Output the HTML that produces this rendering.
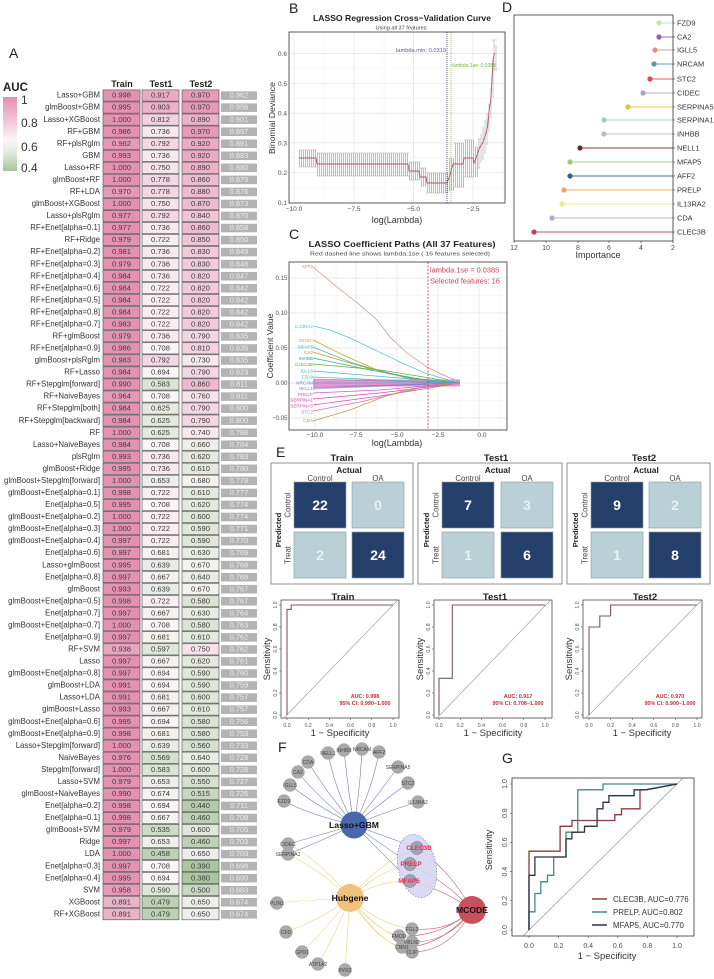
<!DOCTYPE html>
<html><head><meta charset="utf-8">
<style>
html,body{margin:0;padding:0;background:#fff;}
svg{display:block;font-family:"Liberation Sans",Arial,sans-serif;}
#A text{font-size:7.6px;text-anchor:middle;fill:#3c3c3c;}
#A text.l{text-anchor:end;fill:#333;font-size:7.8px;}
#A text.w{fill:#ececec;font-size:7.4px;}
.a0{fill:#e592b2}.a1{fill:#e79ab8}.a2{fill:#e9a4bf}.a3{fill:#eaacc4}.a4{fill:#ebb2c8}.a5{fill:#eebcd0}.a6{fill:#f0c5d5}.a7{fill:#f1cbda}.a8{fill:#f2d2de}.a9{fill:#f3d7e2}
.b0{fill:#f6e3ea}.b1{fill:#f7e9ee}.b2{fill:#f8eef2}.b3{fill:#f9f4f5}
.g0{fill:#f3f2ef}.g1{fill:#eeefea}.g2{fill:#e9ece5}.g3{fill:#e4e9df}.g4{fill:#dfe6da}.g5{fill:#dae3d4}.g6{fill:#d5e0ce}.g7{fill:#cedcc7}.g8{fill:#c8d7bf}.g9{fill:#bdd2b4}.h0{fill:#b5ccab}.h1{fill:#aac6a0}
.tk{font-size:7px;fill:#4d4d4d;}
.tb{font-size:6.6px;fill:#4d4d4d;}
.tc{font-size:6.2px;fill:#4d4d4d;}
.gn{font-size:5px;fill:#444;text-anchor:middle;}
</style></head>
<body>
<svg width="714" height="979" viewBox="0 0 714 979">
<defs>
<linearGradient id="lg" x1="0" y1="0" x2="0" y2="1">
<stop offset="0" stop-color="#e48fb0"/><stop offset="0.45" stop-color="#f6dde7"/><stop offset="0.58" stop-color="#faf7f7"/><stop offset="0.75" stop-color="#e3eadd"/><stop offset="1" stop-color="#a8c49c"/>
</linearGradient>
<rect id="c" y="-7.8" width="37" height="11.2" stroke="#4a4a4a" stroke-width="0.6"/>
<rect id="gb" x="221" y="-6.4" width="36" height="8.6" fill="#b3b3b3"/>
<pattern id="eb" width="2" height="4" patternUnits="userSpaceOnUse"><rect x="1" width="1" height="4" fill="#bdbdbd"/></pattern>
<clipPath id="cpC"><rect x="289" y="262" width="218" height="168"/></clipPath>
</defs>

<!-- ===== Panel A ===== -->
<text x="9" y="58" font-size="14" fill="#222">A</text>
<text x="3" y="91" font-size="11.5" font-weight="bold" fill="#222">AUC</text>
<rect x="3" y="97" width="14" height="74" fill="url(#lg)"/>
<g font-size="12" fill="#333">
<text x="21" y="104">1</text><text x="21" y="127">0.8</text><text x="21" y="151">0.6</text><text x="21" y="172">0.4</text>
</g>
<g font-size="9" font-weight="bold" fill="#222" text-anchor="middle">
<text x="122" y="87">Train</text><text x="161" y="87">Test1</text><text x="201" y="87">Test2</text>
</g>
<g id="A">
<g transform="translate(0,97.7)"><text x="100" class="l">Lasso+GBM</text><use href="#c" x="103" class="a0"/><text x="121.5">0.998</text><use href="#c" x="142" class="a3"/><text x="160.5">0.917</text><use href="#c" x="182" class="a1"/><text x="200.5">0.970</text><use href="#gb"/><text x="239" class="w">0.962</text></g>
<g transform="translate(0,109.74)"><text x="100" class="l">glmBoost+GBM</text><use href="#c" x="103" class="a0"/><text x="121.5">0.995</text><use href="#c" x="142" class="a4"/><text x="160.5">0.903</text><use href="#c" x="182" class="a1"/><text x="200.5">0.970</text><use href="#gb"/><text x="239" class="w">0.956</text></g>
<g transform="translate(0,121.78)"><text x="100" class="l">Lasso+XGBoost</text><use href="#c" x="103" class="a0"/><text x="121.5">1.000</text><use href="#c" x="142" class="a8"/><text x="160.5">0.812</text><use href="#c" x="182" class="a4"/><text x="200.5">0.890</text><use href="#gb"/><text x="239" class="w">0.901</text></g>
<g transform="translate(0,133.82)"><text x="100" class="l">RF+GBM</text><use href="#c" x="103" class="a0"/><text x="121.5">0.986</text><use href="#c" x="142" class="b1"/><text x="160.5">0.736</text><use href="#c" x="182" class="a1"/><text x="200.5">0.970</text><use href="#gb"/><text x="239" class="w">0.897</text></g>
<g transform="translate(0,145.86)"><text x="100" class="l">RF+plsRglm</text><use href="#c" x="103" class="a1"/><text x="121.5">0.962</text><use href="#c" x="142" class="a9"/><text x="160.5">0.792</text><use href="#c" x="182" class="a3"/><text x="200.5">0.920</text><use href="#gb"/><text x="239" class="w">0.891</text></g>
<g transform="translate(0,157.9)"><text x="100" class="l">GBM</text><use href="#c" x="103" class="a0"/><text x="121.5">0.993</text><use href="#c" x="142" class="b1"/><text x="160.5">0.736</text><use href="#c" x="182" class="a3"/><text x="200.5">0.920</text><use href="#gb"/><text x="239" class="w">0.883</text></g>
<g transform="translate(0,169.94)"><text x="100" class="l">Lasso+RF</text><use href="#c" x="103" class="a0"/><text x="121.5">1.000</text><use href="#c" x="142" class="b0"/><text x="160.5">0.750</text><use href="#c" x="182" class="a4"/><text x="200.5">0.890</text><use href="#gb"/><text x="239" class="w">0.880</text></g>
<g transform="translate(0,181.98)"><text x="100" class="l">glmBoost+RF</text><use href="#c" x="103" class="a0"/><text x="121.5">1.000</text><use href="#c" x="142" class="a9"/><text x="160.5">0.778</text><use href="#c" x="182" class="a5"/><text x="200.5">0.860</text><use href="#gb"/><text x="239" class="w">0.879</text></g>
<g transform="translate(0,194.02)"><text x="100" class="l">RF+LDA</text><use href="#c" x="103" class="a1"/><text x="121.5">0.970</text><use href="#c" x="142" class="a9"/><text x="160.5">0.778</text><use href="#c" x="182" class="a5"/><text x="200.5">0.880</text><use href="#gb"/><text x="239" class="w">0.876</text></g>
<g transform="translate(0,206.06)"><text x="100" class="l">glmBoost+XGBoost</text><use href="#c" x="103" class="a0"/><text x="121.5">1.000</text><use href="#c" x="142" class="b0"/><text x="160.5">0.750</text><use href="#c" x="182" class="a5"/><text x="200.5">0.870</text><use href="#gb"/><text x="239" class="w">0.873</text></g>
<g transform="translate(0,218.1)"><text x="100" class="l">Lasso+plsRglm</text><use href="#c" x="103" class="a0"/><text x="121.5">0.977</text><use href="#c" x="142" class="a9"/><text x="160.5">0.792</text><use href="#c" x="182" class="a6"/><text x="200.5">0.840</text><use href="#gb"/><text x="239" class="w">0.870</text></g>
<g transform="translate(0,230.14)"><text x="100" class="l">RF+Enet[alpha=0.1]</text><use href="#c" x="103" class="a0"/><text x="121.5">0.977</text><use href="#c" x="142" class="b1"/><text x="160.5">0.736</text><use href="#c" x="182" class="a5"/><text x="200.5">0.860</text><use href="#gb"/><text x="239" class="w">0.858</text></g>
<g transform="translate(0,242.18)"><text x="100" class="l">RF+Ridge</text><use href="#c" x="103" class="a0"/><text x="121.5">0.979</text><use href="#c" x="142" class="b2"/><text x="160.5">0.722</text><use href="#c" x="182" class="a6"/><text x="200.5">0.850</text><use href="#gb"/><text x="239" class="w">0.850</text></g>
<g transform="translate(0,254.22)"><text x="100" class="l">RF+Enet[alpha=0.2]</text><use href="#c" x="103" class="a0"/><text x="121.5">0.981</text><use href="#c" x="142" class="b1"/><text x="160.5">0.736</text><use href="#c" x="182" class="a7"/><text x="200.5">0.830</text><use href="#gb"/><text x="239" class="w">0.849</text></g>
<g transform="translate(0,266.26)"><text x="100" class="l">RF+Enet[alpha=0.3]</text><use href="#c" x="103" class="a0"/><text x="121.5">0.979</text><use href="#c" x="142" class="b1"/><text x="160.5">0.736</text><use href="#c" x="182" class="a7"/><text x="200.5">0.830</text><use href="#gb"/><text x="239" class="w">0.848</text></g>
<g transform="translate(0,278.3)"><text x="100" class="l">RF+Enet[alpha=0.4]</text><use href="#c" x="103" class="a0"/><text x="121.5">0.984</text><use href="#c" x="142" class="b1"/><text x="160.5">0.736</text><use href="#c" x="182" class="a7"/><text x="200.5">0.820</text><use href="#gb"/><text x="239" class="w">0.847</text></g>
<g transform="translate(0,290.34)"><text x="100" class="l">RF+Enet[alpha=0.6]</text><use href="#c" x="103" class="a0"/><text x="121.5">0.984</text><use href="#c" x="142" class="b2"/><text x="160.5">0.722</text><use href="#c" x="182" class="a7"/><text x="200.5">0.820</text><use href="#gb"/><text x="239" class="w">0.842</text></g>
<g transform="translate(0,302.38)"><text x="100" class="l">RF+Enet[alpha=0.5]</text><use href="#c" x="103" class="a0"/><text x="121.5">0.984</text><use href="#c" x="142" class="b2"/><text x="160.5">0.722</text><use href="#c" x="182" class="a7"/><text x="200.5">0.820</text><use href="#gb"/><text x="239" class="w">0.842</text></g>
<g transform="translate(0,314.42)"><text x="100" class="l">RF+Enet[alpha=0.8]</text><use href="#c" x="103" class="a0"/><text x="121.5">0.984</text><use href="#c" x="142" class="b2"/><text x="160.5">0.722</text><use href="#c" x="182" class="a7"/><text x="200.5">0.820</text><use href="#gb"/><text x="239" class="w">0.842</text></g>
<g transform="translate(0,326.46)"><text x="100" class="l">RF+Enet[alpha=0.7]</text><use href="#c" x="103" class="a0"/><text x="121.5">0.983</text><use href="#c" x="142" class="b2"/><text x="160.5">0.722</text><use href="#c" x="182" class="a7"/><text x="200.5">0.820</text><use href="#gb"/><text x="239" class="w">0.842</text></g>
<g transform="translate(0,338.5)"><text x="100" class="l">RF+glmBoost</text><use href="#c" x="103" class="a0"/><text x="121.5">0.979</text><use href="#c" x="142" class="b1"/><text x="160.5">0.736</text><use href="#c" x="182" class="a9"/><text x="200.5">0.790</text><use href="#gb"/><text x="239" class="w">0.835</text></g>
<g transform="translate(0,350.54)"><text x="100" class="l">RF+Enet[alpha=0.9]</text><use href="#c" x="103" class="a0"/><text x="121.5">0.986</text><use href="#c" x="142" class="b3"/><text x="160.5">0.708</text><use href="#c" x="182" class="a8"/><text x="200.5">0.810</text><use href="#gb"/><text x="239" class="w">0.835</text></g>
<g transform="translate(0,362.58)"><text x="100" class="l">glmBoost+plsRglm</text><use href="#c" x="103" class="a0"/><text x="121.5">0.983</text><use href="#c" x="142" class="a9"/><text x="160.5">0.792</text><use href="#c" x="182" class="b1"/><text x="200.5">0.730</text><use href="#gb"/><text x="239" class="w">0.835</text></g>
<g transform="translate(0,374.62)"><text x="100" class="l">RF+Lasso</text><use href="#c" x="103" class="a0"/><text x="121.5">0.984</text><use href="#c" x="142" class="b3"/><text x="160.5">0.694</text><use href="#c" x="182" class="a9"/><text x="200.5">0.790</text><use href="#gb"/><text x="239" class="w">0.823</text></g>
<g transform="translate(0,386.66)"><text x="100" class="l">RF+Stepglm[forward]</text><use href="#c" x="103" class="a0"/><text x="121.5">0.990</text><use href="#c" x="142" class="g5"/><text x="160.5">0.583</text><use href="#c" x="182" class="a5"/><text x="200.5">0.860</text><use href="#gb"/><text x="239" class="w">0.811</text></g>
<g transform="translate(0,398.7)"><text x="100" class="l">RF+NaiveBayes</text><use href="#c" x="103" class="a1"/><text x="121.5">0.964</text><use href="#c" x="142" class="b3"/><text x="160.5">0.708</text><use href="#c" x="182" class="b0"/><text x="200.5">0.760</text><use href="#gb"/><text x="239" class="w">0.811</text></g>
<g transform="translate(0,410.74)"><text x="100" class="l">RF+Stepglm[both]</text><use href="#c" x="103" class="a0"/><text x="121.5">0.984</text><use href="#c" x="142" class="g3"/><text x="160.5">0.625</text><use href="#c" x="182" class="a9"/><text x="200.5">0.790</text><use href="#gb"/><text x="239" class="w">0.800</text></g>
<g transform="translate(0,422.78)"><text x="100" class="l">RF+Stepglm[backward]</text><use href="#c" x="103" class="a0"/><text x="121.5">0.984</text><use href="#c" x="142" class="g3"/><text x="160.5">0.625</text><use href="#c" x="182" class="a9"/><text x="200.5">0.790</text><use href="#gb"/><text x="239" class="w">0.800</text></g>
<g transform="translate(0,434.82)"><text x="100" class="l">RF</text><use href="#c" x="103" class="a0"/><text x="121.5">1.000</text><use href="#c" x="142" class="g3"/><text x="160.5">0.625</text><use href="#c" x="182" class="b1"/><text x="200.5">0.740</text><use href="#gb"/><text x="239" class="w">0.788</text></g>
<g transform="translate(0,446.86)"><text x="100" class="l">Lasso+NaiveBayes</text><use href="#c" x="103" class="a0"/><text x="121.5">0.984</text><use href="#c" x="142" class="b3"/><text x="160.5">0.708</text><use href="#c" x="182" class="g1"/><text x="200.5">0.660</text><use href="#gb"/><text x="239" class="w">0.784</text></g>
<g transform="translate(0,458.9)"><text x="100" class="l">plsRglm</text><use href="#c" x="103" class="a0"/><text x="121.5">0.993</text><use href="#c" x="142" class="b1"/><text x="160.5">0.736</text><use href="#c" x="182" class="g3"/><text x="200.5">0.620</text><use href="#gb"/><text x="239" class="w">0.783</text></g>
<g transform="translate(0,470.94)"><text x="100" class="l">glmBoost+Ridge</text><use href="#c" x="103" class="a0"/><text x="121.5">0.995</text><use href="#c" x="142" class="b1"/><text x="160.5">0.736</text><use href="#c" x="182" class="g3"/><text x="200.5">0.610</text><use href="#gb"/><text x="239" class="w">0.780</text></g>
<g transform="translate(0,482.98)"><text x="100" class="l">glmBoost+Stepglm[forward]</text><use href="#c" x="103" class="a0"/><text x="121.5">1.000</text><use href="#c" x="142" class="g1"/><text x="160.5">0.653</text><use href="#c" x="182" class="g0"/><text x="200.5">0.680</text><use href="#gb"/><text x="239" class="w">0.778</text></g>
<g transform="translate(0,495.02)"><text x="100" class="l">glmBoost+Enet[alpha=0.1]</text><use href="#c" x="103" class="a0"/><text x="121.5">0.998</text><use href="#c" x="142" class="b2"/><text x="160.5">0.722</text><use href="#c" x="182" class="g3"/><text x="200.5">0.610</text><use href="#gb"/><text x="239" class="w">0.777</text></g>
<g transform="translate(0,507.06)"><text x="100" class="l">Enet[alpha=0.5]</text><use href="#c" x="103" class="a0"/><text x="121.5">0.995</text><use href="#c" x="142" class="b3"/><text x="160.5">0.708</text><use href="#c" x="182" class="g3"/><text x="200.5">0.620</text><use href="#gb"/><text x="239" class="w">0.774</text></g>
<g transform="translate(0,519.1)"><text x="100" class="l">glmBoost+Enet[alpha=0.2]</text><use href="#c" x="103" class="a0"/><text x="121.5">1.000</text><use href="#c" x="142" class="b2"/><text x="160.5">0.722</text><use href="#c" x="182" class="g4"/><text x="200.5">0.600</text><use href="#gb"/><text x="239" class="w">0.774</text></g>
<g transform="translate(0,531.14)"><text x="100" class="l">glmBoost+Enet[alpha=0.3]</text><use href="#c" x="103" class="a0"/><text x="121.5">1.000</text><use href="#c" x="142" class="b2"/><text x="160.5">0.722</text><use href="#c" x="182" class="g4"/><text x="200.5">0.590</text><use href="#gb"/><text x="239" class="w">0.771</text></g>
<g transform="translate(0,543.18)"><text x="100" class="l">glmBoost+Enet[alpha=0.4]</text><use href="#c" x="103" class="a0"/><text x="121.5">0.997</text><use href="#c" x="142" class="b2"/><text x="160.5">0.722</text><use href="#c" x="182" class="g4"/><text x="200.5">0.590</text><use href="#gb"/><text x="239" class="w">0.770</text></g>
<g transform="translate(0,555.22)"><text x="100" class="l">Enet[alpha=0.6]</text><use href="#c" x="103" class="a0"/><text x="121.5">0.997</text><use href="#c" x="142" class="g0"/><text x="160.5">0.681</text><use href="#c" x="182" class="g2"/><text x="200.5">0.630</text><use href="#gb"/><text x="239" class="w">0.769</text></g>
<g transform="translate(0,567.26)"><text x="100" class="l">Lasso+glmBoost</text><use href="#c" x="103" class="a0"/><text x="121.5">0.995</text><use href="#c" x="142" class="g2"/><text x="160.5">0.639</text><use href="#c" x="182" class="g0"/><text x="200.5">0.670</text><use href="#gb"/><text x="239" class="w">0.768</text></g>
<g transform="translate(0,579.3)"><text x="100" class="l">Enet[alpha=0.8]</text><use href="#c" x="103" class="a0"/><text x="121.5">0.997</text><use href="#c" x="142" class="g0"/><text x="160.5">0.667</text><use href="#c" x="182" class="g2"/><text x="200.5">0.640</text><use href="#gb"/><text x="239" class="w">0.768</text></g>
<g transform="translate(0,591.34)"><text x="100" class="l">glmBoost</text><use href="#c" x="103" class="a0"/><text x="121.5">0.993</text><use href="#c" x="142" class="g2"/><text x="160.5">0.639</text><use href="#c" x="182" class="g0"/><text x="200.5">0.670</text><use href="#gb"/><text x="239" class="w">0.767</text></g>
<g transform="translate(0,603.38)"><text x="100" class="l">glmBoost+Enet[alpha=0.5]</text><use href="#c" x="103" class="a0"/><text x="121.5">0.998</text><use href="#c" x="142" class="b2"/><text x="160.5">0.722</text><use href="#c" x="182" class="g5"/><text x="200.5">0.580</text><use href="#gb"/><text x="239" class="w">0.767</text></g>
<g transform="translate(0,615.42)"><text x="100" class="l">Enet[alpha=0.7]</text><use href="#c" x="103" class="a0"/><text x="121.5">0.997</text><use href="#c" x="142" class="g0"/><text x="160.5">0.667</text><use href="#c" x="182" class="g2"/><text x="200.5">0.630</text><use href="#gb"/><text x="239" class="w">0.764</text></g>
<g transform="translate(0,627.46)"><text x="100" class="l">glmBoost+Enet[alpha=0.7]</text><use href="#c" x="103" class="a0"/><text x="121.5">1.000</text><use href="#c" x="142" class="b3"/><text x="160.5">0.708</text><use href="#c" x="182" class="g5"/><text x="200.5">0.580</text><use href="#gb"/><text x="239" class="w">0.763</text></g>
<g transform="translate(0,639.5)"><text x="100" class="l">Enet[alpha=0.9]</text><use href="#c" x="103" class="a0"/><text x="121.5">0.997</text><use href="#c" x="142" class="g0"/><text x="160.5">0.681</text><use href="#c" x="182" class="g3"/><text x="200.5">0.610</text><use href="#gb"/><text x="239" class="w">0.762</text></g>
<g transform="translate(0,651.54)"><text x="100" class="l">RF+SVM</text><use href="#c" x="103" class="a2"/><text x="121.5">0.938</text><use href="#c" x="142" class="g4"/><text x="160.5">0.597</text><use href="#c" x="182" class="b0"/><text x="200.5">0.750</text><use href="#gb"/><text x="239" class="w">0.762</text></g>
<g transform="translate(0,663.58)"><text x="100" class="l">Lasso</text><use href="#c" x="103" class="a0"/><text x="121.5">0.997</text><use href="#c" x="142" class="g0"/><text x="160.5">0.667</text><use href="#c" x="182" class="g3"/><text x="200.5">0.620</text><use href="#gb"/><text x="239" class="w">0.761</text></g>
<g transform="translate(0,675.62)"><text x="100" class="l">glmBoost+Enet[alpha=0.8]</text><use href="#c" x="103" class="a0"/><text x="121.5">0.997</text><use href="#c" x="142" class="b3"/><text x="160.5">0.694</text><use href="#c" x="182" class="g4"/><text x="200.5">0.590</text><use href="#gb"/><text x="239" class="w">0.760</text></g>
<g transform="translate(0,687.66)"><text x="100" class="l">glmBoost+LDA</text><use href="#c" x="103" class="a0"/><text x="121.5">0.991</text><use href="#c" x="142" class="b3"/><text x="160.5">0.694</text><use href="#c" x="182" class="g4"/><text x="200.5">0.590</text><use href="#gb"/><text x="239" class="w">0.759</text></g>
<g transform="translate(0,699.7)"><text x="100" class="l">Lasso+LDA</text><use href="#c" x="103" class="a0"/><text x="121.5">0.991</text><use href="#c" x="142" class="g0"/><text x="160.5">0.681</text><use href="#c" x="182" class="g4"/><text x="200.5">0.600</text><use href="#gb"/><text x="239" class="w">0.757</text></g>
<g transform="translate(0,711.74)"><text x="100" class="l">glmBoost+Lasso</text><use href="#c" x="103" class="a0"/><text x="121.5">0.993</text><use href="#c" x="142" class="g0"/><text x="160.5">0.667</text><use href="#c" x="182" class="g3"/><text x="200.5">0.610</text><use href="#gb"/><text x="239" class="w">0.757</text></g>
<g transform="translate(0,723.78)"><text x="100" class="l">glmBoost+Enet[alpha=0.6]</text><use href="#c" x="103" class="a0"/><text x="121.5">0.995</text><use href="#c" x="142" class="b3"/><text x="160.5">0.694</text><use href="#c" x="182" class="g5"/><text x="200.5">0.580</text><use href="#gb"/><text x="239" class="w">0.756</text></g>
<g transform="translate(0,735.82)"><text x="100" class="l">glmBoost+Enet[alpha=0.9]</text><use href="#c" x="103" class="a0"/><text x="121.5">0.998</text><use href="#c" x="142" class="g0"/><text x="160.5">0.681</text><use href="#c" x="182" class="g5"/><text x="200.5">0.580</text><use href="#gb"/><text x="239" class="w">0.753</text></g>
<g transform="translate(0,747.86)"><text x="100" class="l">Lasso+Stepglm[forward]</text><use href="#c" x="103" class="a0"/><text x="121.5">1.000</text><use href="#c" x="142" class="g2"/><text x="160.5">0.639</text><use href="#c" x="182" class="g6"/><text x="200.5">0.560</text><use href="#gb"/><text x="239" class="w">0.733</text></g>
<g transform="translate(0,759.9)"><text x="100" class="l">NaiveBayes</text><use href="#c" x="103" class="a0"/><text x="121.5">0.976</text><use href="#c" x="142" class="g6"/><text x="160.5">0.569</text><use href="#c" x="182" class="g2"/><text x="200.5">0.640</text><use href="#gb"/><text x="239" class="w">0.728</text></g>
<g transform="translate(0,771.94)"><text x="100" class="l">Stepglm[forward]</text><use href="#c" x="103" class="a0"/><text x="121.5">1.000</text><use href="#c" x="142" class="g5"/><text x="160.5">0.583</text><use href="#c" x="182" class="g4"/><text x="200.5">0.600</text><use href="#gb"/><text x="239" class="w">0.728</text></g>
<g transform="translate(0,783.98)"><text x="100" class="l">Lasso+SVM</text><use href="#c" x="103" class="a0"/><text x="121.5">0.979</text><use href="#c" x="142" class="g1"/><text x="160.5">0.653</text><use href="#c" x="182" class="g6"/><text x="200.5">0.550</text><use href="#gb"/><text x="239" class="w">0.727</text></g>
<g transform="translate(0,796.02)"><text x="100" class="l">glmBoost+NaiveBayes</text><use href="#c" x="103" class="a0"/><text x="121.5">0.990</text><use href="#c" x="142" class="g0"/><text x="160.5">0.674</text><use href="#c" x="182" class="g8"/><text x="200.5">0.515</text><use href="#gb"/><text x="239" class="w">0.726</text></g>
<g transform="translate(0,808.06)"><text x="100" class="l">Enet[alpha=0.2]</text><use href="#c" x="103" class="a0"/><text x="121.5">0.998</text><use href="#c" x="142" class="b3"/><text x="160.5">0.694</text><use href="#c" x="182" class="h0"/><text x="200.5">0.440</text><use href="#gb"/><text x="239" class="w">0.711</text></g>
<g transform="translate(0,820.1)"><text x="100" class="l">Enet[alpha=0.1]</text><use href="#c" x="103" class="a0"/><text x="121.5">0.998</text><use href="#c" x="142" class="g0"/><text x="160.5">0.667</text><use href="#c" x="182" class="g9"/><text x="200.5">0.460</text><use href="#gb"/><text x="239" class="w">0.708</text></g>
<g transform="translate(0,832.14)"><text x="100" class="l">glmBoost+SVM</text><use href="#c" x="103" class="a0"/><text x="121.5">0.979</text><use href="#c" x="142" class="g7"/><text x="160.5">0.535</text><use href="#c" x="182" class="g4"/><text x="200.5">0.600</text><use href="#gb"/><text x="239" class="w">0.705</text></g>
<g transform="translate(0,844.18)"><text x="100" class="l">Ridge</text><use href="#c" x="103" class="a0"/><text x="121.5">0.997</text><use href="#c" x="142" class="g1"/><text x="160.5">0.653</text><use href="#c" x="182" class="g9"/><text x="200.5">0.460</text><use href="#gb"/><text x="239" class="w">0.703</text></g>
<g transform="translate(0,856.22)"><text x="100" class="l">LDA</text><use href="#c" x="103" class="a0"/><text x="121.5">1.000</text><use href="#c" x="142" class="g9"/><text x="160.5">0.458</text><use href="#c" x="182" class="g1"/><text x="200.5">0.650</text><use href="#gb"/><text x="239" class="w">0.703</text></g>
<g transform="translate(0,868.26)"><text x="100" class="l">Enet[alpha=0.3]</text><use href="#c" x="103" class="a0"/><text x="121.5">0.997</text><use href="#c" x="142" class="b3"/><text x="160.5">0.708</text><use href="#c" x="182" class="h1"/><text x="200.5">0.390</text><use href="#gb"/><text x="239" class="w">0.698</text></g>
<g transform="translate(0,880.3)"><text x="100" class="l">Enet[alpha=0.4]</text><use href="#c" x="103" class="a0"/><text x="121.5">0.995</text><use href="#c" x="142" class="b3"/><text x="160.5">0.694</text><use href="#c" x="182" class="h1"/><text x="200.5">0.380</text><use href="#gb"/><text x="239" class="w">0.690</text></g>
<g transform="translate(0,892.34)"><text x="100" class="l">SVM</text><use href="#c" x="103" class="a1"/><text x="121.5">0.958</text><use href="#c" x="142" class="g4"/><text x="160.5">0.590</text><use href="#c" x="182" class="g8"/><text x="200.5">0.500</text><use href="#gb"/><text x="239" class="w">0.683</text></g>
<g transform="translate(0,904.38)"><text x="100" class="l">XGBoost</text><use href="#c" x="103" class="a4"/><text x="121.5">0.891</text><use href="#c" x="142" class="g9"/><text x="160.5">0.479</text><use href="#c" x="182" class="g1"/><text x="200.5">0.650</text><use href="#gb"/><text x="239" class="w">0.674</text></g>
<g transform="translate(0,916.42)"><text x="100" class="l">RF+XGBoost</text><use href="#c" x="103" class="a4"/><text x="121.5">0.891</text><use href="#c" x="142" class="g9"/><text x="160.5">0.479</text><use href="#c" x="182" class="g1"/><text x="200.5">0.650</text><use href="#gb"/><text x="239" class="w">0.674</text></g>
</g>

<!-- ===== Panel B ===== -->
<text x="289" y="13" font-size="14" fill="#222">B</text>
<text x="402" y="21" font-size="8.5" font-weight="bold" fill="#222" text-anchor="middle" textLength="178" lengthAdjust="spacingAndGlyphs">LASSO Regression Cross−Validation Curve</text>
<text x="401" y="29.5" font-size="5.6" fill="#444" text-anchor="middle">Using all 37 features</text>
<rect x="289" y="32" width="216" height="171" fill="#fff"/>
<g stroke="#f0f0f0" stroke-width="0.5">
<line x1="324" y1="32" x2="324" y2="203"/><line x1="384" y1="32" x2="384" y2="203"/><line x1="443" y1="32" x2="443" y2="203"/><line x1="503" y1="32" x2="503" y2="203"/>
<line x1="289" y1="187.6" x2="505" y2="187.6"/><line x1="289" y1="157.8" x2="505" y2="157.8"/><line x1="289" y1="128" x2="505" y2="128"/><line x1="289" y1="98.2" x2="505" y2="98.2"/><line x1="289" y1="68.4" x2="505" y2="68.4"/><line x1="289" y1="38.6" x2="505" y2="38.6"/>
</g>
<g stroke="#e2e2e2" stroke-width="0.7">
<line x1="294" y1="32" x2="294" y2="203"/><line x1="354" y1="32" x2="354" y2="203"/><line x1="413.5" y1="32" x2="413.5" y2="203"/><line x1="473" y1="32" x2="473" y2="203"/>
<line x1="289" y1="172.7" x2="505" y2="172.7"/><line x1="289" y1="142.9" x2="505" y2="142.9"/><line x1="289" y1="113.1" x2="505" y2="113.1"/><line x1="289" y1="83.3" x2="505" y2="83.3"/><line x1="289" y1="53.5" x2="505" y2="53.5"/>
</g>
<!-- error bars -->
<g fill="url(#eb)">
<rect x="299" y="150" width="18" height="17"/>
<rect x="317" y="153" width="92" height="23"/>
<rect x="409" y="162" width="11" height="18"/>
<rect x="420" y="168" width="6" height="18"/>
<rect x="426" y="173" width="22" height="20"/>
<rect x="448" y="158" width="6" height="33"/>
<rect x="454" y="143" width="10" height="44"/>
<rect x="464" y="140" width="10" height="37"/>
<rect x="474" y="146" width="4" height="31"/>
</g>
<g stroke="#a8a8a8" stroke-width="0.6" fill="none">
<path d="M299,150H317M299,167H317M317,153H409M317,176H409M409,162H420M409,180H420M420,168H426M420,186H426M426,173H448M426,193H448M454,143H464M454,187H464M464,140H474M464,177H474"/>
<path d="M479,139V168M481,134V163M483,127V160M485,120V154M487,113V145M489,104V132M491,88V118M493,62V98M494,40V70M496,45V70M477.5,139H480.5M477.5,168H480.5M492,40H497M492,70H497M489,104H490"/>
</g>
<path d="M299,158H316L317,164H408L409,171H419L420,177H426L427,183H447L450,175L453,164H463L464,158H473L474,163L477,155L480,147L483,142L486,133L487.5,127L489,112L491,97L493,60L494.5,53" fill="none" stroke="#b05a6a" stroke-width="0.9"/>
<line x1="447" y1="32" x2="447" y2="203" stroke="#2a2a60" stroke-width="0.8" stroke-dasharray="1,1"/>
<line x1="451" y1="32" x2="451" y2="203" stroke="#7ab04a" stroke-width="0.8" stroke-dasharray="1,1"/>
<text x="446" y="52" font-size="5.7" fill="#5a5aa0" text-anchor="end">lambda.min: 0.0319</text>
<text x="452" y="67" font-size="5" fill="#7ab040">lambda.1se: 0.0385</text>
<rect x="289" y="32" width="216" height="171" fill="none" stroke="#333" stroke-width="0.8"/>
<g class="tb" text-anchor="end">
<text x="287" y="205">0.1</text><text x="287" y="175.2">0.2</text><text x="287" y="145.4">0.3</text><text x="287" y="115.6">0.4</text><text x="287" y="85.8">0.5</text><text x="287" y="56">0.6</text>
</g>
<g class="tb" text-anchor="middle">
<text x="294" y="211">−10.0</text><text x="354" y="211">−7.5</text><text x="413.5" y="211">−5.0</text><text x="473" y="211">−2.5</text>
</g>
<text x="397" y="223" font-size="9" fill="#333" text-anchor="middle">log(Lambda)</text>
<text x="275" y="118" font-size="8.7" fill="#333" text-anchor="middle" transform="rotate(-90 275 118)">Binomial Deviance</text>

<!-- ===== Panel C ===== -->
<text x="289" y="239" font-size="14" fill="#222">C</text>
<text x="402" y="247" font-size="8.5" font-weight="bold" fill="#222" text-anchor="middle" textLength="187" lengthAdjust="spacingAndGlyphs">LASSO Coefficient Paths (All 37 Features)</text>
<text x="400" y="255.5" font-size="5.6" fill="#444" text-anchor="middle" textLength="180" lengthAdjust="spacingAndGlyphs">Red dashed line shows lambda.1se ( 16 features selected)</text>
<g stroke="#f0f0f0" stroke-width="0.5">
<line x1="295" y1="262" x2="295" y2="430"/><line x1="336" y1="262" x2="336" y2="430"/><line x1="377" y1="262" x2="377" y2="430"/><line x1="418" y1="262" x2="418" y2="430"/><line x1="459" y1="262" x2="459" y2="430"/><line x1="500" y1="262" x2="500" y2="430"/>
<line x1="289" y1="400.5" x2="507" y2="400.5"/><line x1="289" y1="365.5" x2="507" y2="365.5"/><line x1="289" y1="330.5" x2="507" y2="330.5"/><line x1="289" y1="295.5" x2="507" y2="295.5"/>
</g>
<g stroke="#e2e2e2" stroke-width="0.7">
<line x1="315" y1="262" x2="315" y2="430"/><line x1="356" y1="262" x2="356" y2="430"/><line x1="397" y1="262" x2="397" y2="430"/><line x1="438" y1="262" x2="438" y2="430"/><line x1="479" y1="262" x2="479" y2="430"/>
<line x1="289" y1="418" x2="507" y2="418"/><line x1="289" y1="383" x2="507" y2="383"/><line x1="289" y1="348" x2="507" y2="348"/><line x1="289" y1="313" x2="507" y2="313"/><line x1="289" y1="278" x2="507" y2="278"/>
</g>
<g fill="none" stroke-width="0.7" clip-path="url(#cpC)">
<path d="M313,380H460M313,381H460M313,382H460M313,384H460M313,385H460M313,386H460" stroke="#d0409a" opacity="0.7"/>
<path d="M313,379L460,383M313,387L460,383M313,389L460,383" stroke="#9060c0" opacity="0.6"/>
<polyline points="313,267 337,287 360,305 377,320 390,337 407,353 427,367 443,375 460,382" stroke="#c89080"/>
<polyline points="313,326 330,330 350,338 375,350 400,362 425,373 445,379 460,383" stroke="#60c0d0"/>
<polyline points="313,340 345,356 375,369 410,379 460,383" stroke="#b0b030"/>
<polyline points="313,347 350,362 390,374 430,381 460,383" stroke="#50b0c0"/>
<polyline points="313,352 360,366 410,378 460,383" stroke="#b0a020"/>
<polyline points="313,358 370,370 420,379 460,383" stroke="#40a0a0"/>
<polyline points="313,364 380,370 430,378 460,383" stroke="#60b040"/>
<polyline points="313,371 400,378 460,383" stroke="#40b0d0"/>
<polyline points="313,377 460,383" stroke="#40c0b0"/>
<polyline points="313,383 460,383" stroke="#6080d0"/>
<polyline points="313,388 460,383" stroke="#8080e0"/>
<polyline points="313,393 380,390 460,383" stroke="#c060d0"/>
<polyline points="313,399 380,393 460,383" stroke="#e040b0"/>
<polyline points="313,405 380,396 460,383" stroke="#d050c0"/>
<polyline points="313,411 360,402 420,388 460,383" stroke="#e070a0"/>
<polyline points="313,421 350,410 383,397 410,389 437,385 460,383" stroke="#b0a040"/>
</g>
<g font-size="4.6" text-anchor="end">
<text x="313" y="268" fill="#c89080">AFF2</text>
<text x="313" y="328" fill="#60c0d0">IL13RA2</text>
<text x="313" y="342" fill="#b0b030">CIDEC</text>
<text x="313" y="348.5" fill="#50b0c0">MFAP5</text>
<text x="313" y="354" fill="#b0a020">CA2</text>
<text x="313" y="360" fill="#40a0a0">INHBB</text>
<text x="313" y="366" fill="#60b040">CLEC3B</text>
<text x="313" y="372.5" fill="#40b0d0">IGLL5</text>
<text x="313" y="378.5" fill="#40c0b0">FZD9</text>
<text x="313" y="384.5" fill="#6080d0">NRCAM</text>
<text x="313" y="390" fill="#8080e0">NELL1</text>
<text x="313" y="396" fill="#c060d0">PRELP</text>
<text x="313" y="401.5" fill="#e040b0">SERPINA1</text>
<text x="313" y="407.5" fill="#d050c0">SERPINA5</text>
<text x="313" y="413.5" fill="#e070a0">STC2</text>
<text x="313" y="422" fill="#b0a040">CDA</text>
</g>
<line x1="428" y1="262" x2="428" y2="430" stroke="#c03040" stroke-width="0.8" stroke-dasharray="2,1.5"/>
<text x="430" y="272.5" font-size="7.4" fill="#d04050">lambda.1se = 0.0385</text>
<text x="430" y="283.5" font-size="7.4" fill="#d04050">Selected features: 16</text>
<rect x="289" y="262" width="218" height="168" fill="none" stroke="#333" stroke-width="0.8"/>
<g class="tc" text-anchor="end">
<text x="287.5" y="420">−0.05</text><text x="287.5" y="385">0.00</text><text x="287.5" y="350">0.05</text><text x="287.5" y="315">0.10</text><text x="287.5" y="280">0.15</text>
</g>
<g class="tb" text-anchor="middle">
<text x="315" y="437">−10.0</text><text x="356" y="437">−7.5</text><text x="397" y="437">−5.0</text><text x="438" y="437">−2.5</text><text x="482" y="437">0.0</text>
</g>
<text x="397" y="446" font-size="9" fill="#333" text-anchor="middle">log(Lambda)</text>
<text x="273" y="346" font-size="8.7" fill="#333" text-anchor="middle" transform="rotate(-90 273 346)">Coefficient Value</text>

<!-- ===== Panel D ===== -->
<text x="502" y="12" font-size="14" fill="#222">D</text>
<g stroke-width="1" opacity="0.9">
<line x1="659" y1="23" x2="673" y2="23" stroke="#c6e2b0"/>
<line x1="659" y1="37" x2="673" y2="37" stroke="#8e64a8"/>
<line x1="655" y1="50" x2="673" y2="50" stroke="#e2907c"/>
<line x1="654" y1="64" x2="673" y2="64" stroke="#5f93b8"/>
<line x1="650" y1="79" x2="673" y2="79" stroke="#d8504e"/>
<line x1="643" y1="93" x2="673" y2="93" stroke="#aaa2c4"/>
<line x1="628" y1="107" x2="673" y2="107" stroke="#e4c62a"/>
<line x1="604" y1="120" x2="673" y2="120" stroke="#96d2c4"/>
<line x1="604" y1="134" x2="673" y2="134" stroke="#bdbdbd"/>
<line x1="580" y1="148" x2="673" y2="148" stroke="#6a2c1e"/>
<line x1="570" y1="162" x2="673" y2="162" stroke="#9cc87c"/>
<line x1="570" y1="176" x2="673" y2="176" stroke="#3a5c8c"/>
<line x1="564" y1="190" x2="673" y2="190" stroke="#e8aa64"/>
<line x1="562" y1="204" x2="673" y2="204" stroke="#e8ec8a"/>
<line x1="552" y1="218" x2="673" y2="218" stroke="#aeaad2"/>
<line x1="534" y1="232" x2="673" y2="232" stroke="#c83c5c"/>
</g>
<g>
<circle cx="659" cy="23" r="2.6" fill="#c6e2b0"/>
<circle cx="659" cy="37" r="2.6" fill="#8e64a8"/>
<circle cx="655" cy="50" r="2.6" fill="#e2907c"/>
<circle cx="654" cy="64" r="2.6" fill="#5f93b8"/>
<circle cx="650" cy="79" r="2.6" fill="#d8504e"/>
<circle cx="643" cy="93" r="2.6" fill="#aaa2c4"/>
<circle cx="628" cy="107" r="2.6" fill="#e4c62a"/>
<circle cx="604" cy="120" r="2.6" fill="#96d2c4"/>
<circle cx="604" cy="134" r="2.6" fill="#bdbdbd"/>
<circle cx="580" cy="148" r="2.6" fill="#6a2c1e"/>
<circle cx="570" cy="162" r="2.6" fill="#9cc87c"/>
<circle cx="570" cy="176" r="2.6" fill="#3a5c8c"/>
<circle cx="564" cy="190" r="2.6" fill="#e8aa64"/>
<circle cx="562" cy="204" r="2.6" fill="#e8ec8a"/>
<circle cx="552" cy="218" r="2.6" fill="#aeaad2"/>
<circle cx="534" cy="232" r="2.6" fill="#c83c5c"/>
</g>
<rect x="514" y="15" width="159" height="226" fill="none" stroke="#333" stroke-width="0.8"/>
<g stroke="#333" stroke-width="0.6">
<path d="M673,23h2M673,37h2M673,50h2M673,64h2M673,79h2M673,93h2M673,107h2M673,120h2M673,134h2M673,148h2M673,162h2M673,176h2M673,190h2M673,204h2M673,218h2M673,232h2"/>
<path d="M514,241v2M546,241v2M578,241v2M609,241v2M641,241v2M673,241v2"/>
</g>
<g font-size="7.4" fill="#333">
<text x="677" y="25.5">FZD9</text><text x="677" y="39.5">CA2</text><text x="677" y="52.5">IGLL5</text><text x="677" y="66.5">NRCAM</text><text x="677" y="81.5">STC2</text><text x="677" y="95.5">CIDEC</text><text x="677" y="109.5">SERPINA5</text><text x="677" y="122.5">SERPINA1</text><text x="677" y="136.5">INHBB</text><text x="677" y="150.5">NELL1</text><text x="677" y="164.5">MFAP5</text><text x="677" y="178.5">AFF2</text><text x="677" y="192.5">PRELP</text><text x="677" y="206.5">IL13RA2</text><text x="677" y="220.5">CDA</text><text x="677" y="234.5">CLEC3B</text>
</g>
<g class="tk" text-anchor="middle">
<text x="514" y="250">12</text><text x="546" y="250">10</text><text x="578" y="250">8</text><text x="609" y="250">6</text><text x="641" y="250">4</text><text x="673" y="250">2</text>
</g>
<text x="598" y="258" font-size="9" fill="#333" text-anchor="middle">Importance</text>

<!-- ===== Panel E (confusion) ===== -->
<text x="276" y="457" font-size="14" fill="#222">E</text>
<g font-size="9.6" font-weight="bold" fill="#222" text-anchor="middle">
<text x="342" y="461">Train</text><text x="496" y="461">Test1</text><text x="644" y="461">Test2</text>
</g>
<g fill="none" stroke="#777" stroke-width="0.8">
<rect x="271" y="463" width="142" height="121"/><rect x="418" y="463" width="144" height="121"/><rect x="567" y="463" width="143" height="121"/>
</g>
<g stroke="#8a9aa0" stroke-width="0.6">
<rect x="294" y="482" width="52" height="46" fill="#253f6b"/><rect x="352" y="482" width="52" height="46" fill="#b8d0d6"/>
<rect x="294" y="532" width="52" height="46" fill="#b8d0d6"/><rect x="352" y="532" width="52" height="46" fill="#253f6b"/>
<rect x="442" y="482" width="52" height="46" fill="#253f6b"/><rect x="501" y="482" width="52" height="46" fill="#b8d0d6"/>
<rect x="442" y="532" width="52" height="46" fill="#b8d0d6"/><rect x="501" y="532" width="52" height="46" fill="#253f6b"/>
<rect x="591" y="482" width="52" height="46" fill="#253f6b"/><rect x="649" y="482" width="52" height="46" fill="#b8d0d6"/>
<rect x="591" y="532" width="52" height="46" fill="#b8d0d6"/><rect x="649" y="532" width="52" height="46" fill="#253f6b"/>
</g>
<g font-size="14" font-weight="bold" text-anchor="middle">
<text x="320" y="510" fill="#fff">22</text><text x="378" y="510" fill="#e8f1f3">0</text><text x="320" y="560" fill="#e8f1f3">2</text><text x="378" y="560" fill="#fff">24</text>
<text x="468" y="510" fill="#fff">7</text><text x="527" y="510" fill="#e8f1f3">3</text><text x="468" y="560" fill="#e8f1f3">1</text><text x="527" y="560" fill="#fff">6</text>
<text x="617" y="510" fill="#fff">9</text><text x="675" y="510" fill="#e8f1f3">2</text><text x="617" y="560" fill="#e8f1f3">1</text><text x="675" y="560" fill="#fff">8</text>
</g>
<g font-size="8.4" font-weight="bold" fill="#222" text-anchor="middle">
<text x="349" y="473">Actual</text><text x="497.5" y="473">Actual</text><text x="646" y="473">Actual</text>
</g>
<g font-size="7.8" fill="#444" text-anchor="middle">
<text x="320" y="481">Control</text><text x="378" y="481">OA</text>
<text x="468" y="481">Control</text><text x="527" y="481">OA</text>
<text x="617" y="481">Control</text><text x="675" y="481">OA</text>
<text transform="translate(290.5,505) rotate(-90)">Control</text><text transform="translate(290.5,555) rotate(-90)">Treat</text>
<text transform="translate(438.5,505) rotate(-90)">Control</text><text transform="translate(438.5,555) rotate(-90)">Treat</text>
<text transform="translate(587.5,505) rotate(-90)">Control</text><text transform="translate(587.5,555) rotate(-90)">Treat</text>
</g>
<g font-size="7.6" font-weight="bold" fill="#222" text-anchor="middle">
<text transform="translate(281,530) rotate(-90)">Predicted</text>
<text transform="translate(429,530) rotate(-90)">Predicted</text>
<text transform="translate(578,530) rotate(-90)">Predicted</text>
</g>

<!-- ===== Panel E (ROC) ===== -->
<g font-size="9.6" font-weight="bold" fill="#222" text-anchor="middle">
<text x="343" y="600">Train</text><text x="495" y="600">Test1</text><text x="645" y="600">Test2</text>
</g>
<g fill="none" stroke="#333" stroke-width="0.7">
<rect x="281" y="600" width="118" height="118"/><rect x="434" y="600" width="118" height="118"/><rect x="583" y="600" width="119" height="118"/>
</g>
<g stroke="#999" stroke-width="0.6">
<line x1="284" y1="718" x2="397.8" y2="600"/><line x1="437" y1="718" x2="550.8" y2="600"/><line x1="586" y1="718" x2="701.8" y2="600"/>
</g>
<g fill="none" stroke="#7a5a5e" stroke-width="1.1">
<path d="M287,715V609.4H291.2V605H393"/>
<path d="M439,715V678.3H452.3V605H545"/>
<path d="M589,715V627H599.8V616H610.6V605H697"/>
</g>
<g stroke="#333" stroke-width="0.5">
<path d="M287,718v2M308.2,718v2M329.4,718v2M350.6,718v2M371.8,718v2M393,718v2M281,715h-2M281,693h-2M281,671h-2M281,649h-2M281,627h-2M281,605h-2"/>
<path d="M439,718v2M460.2,718v2M481.4,718v2M502.6,718v2M523.8,718v2M545,718v2M434,715h-2M434,693h-2M434,671h-2M434,649h-2M434,627h-2M434,605h-2"/>
<path d="M589,718v2M610.6,718v2M632.2,718v2M653.8,718v2M675.4,718v2M697,718v2M583,715h-2M583,693h-2M583,671h-2M583,649h-2M583,627h-2M583,605h-2"/>
</g>
<g font-size="5.2" fill="#555" text-anchor="middle">
<text x="287" y="727">0.0</text><text x="308.2" y="727">0.2</text><text x="329.4" y="727">0.4</text><text x="350.6" y="727">0.6</text><text x="371.8" y="727">0.8</text><text x="393" y="727">1.0</text>
<text x="439" y="727">0.0</text><text x="460.2" y="727">0.2</text><text x="481.4" y="727">0.4</text><text x="502.6" y="727">0.6</text><text x="523.8" y="727">0.8</text><text x="545" y="727">1.0</text>
<text x="589" y="727">0.0</text><text x="610.6" y="727">0.2</text><text x="632.2" y="727">0.4</text><text x="653.8" y="727">0.6</text><text x="675.4" y="727">0.8</text><text x="697" y="727">1.0</text>
<text transform="translate(277,715) rotate(-90)">0.0</text><text transform="translate(277,693) rotate(-90)">0.2</text><text transform="translate(277,671) rotate(-90)">0.4</text><text transform="translate(277,649) rotate(-90)">0.6</text><text transform="translate(277,627) rotate(-90)">0.8</text><text transform="translate(277,605) rotate(-90)">1.0</text>
<text transform="translate(430,715) rotate(-90)">0.0</text><text transform="translate(430,693) rotate(-90)">0.2</text><text transform="translate(430,671) rotate(-90)">0.4</text><text transform="translate(430,649) rotate(-90)">0.6</text><text transform="translate(430,627) rotate(-90)">0.8</text><text transform="translate(430,605) rotate(-90)">1.0</text>
<text transform="translate(579,715) rotate(-90)">0.0</text><text transform="translate(579,693) rotate(-90)">0.2</text><text transform="translate(579,671) rotate(-90)">0.4</text><text transform="translate(579,649) rotate(-90)">0.6</text><text transform="translate(579,627) rotate(-90)">0.8</text><text transform="translate(579,605) rotate(-90)">1.0</text>
</g>
<g font-size="9.5" fill="#333" text-anchor="middle">
<text x="340" y="736">1 − Specificity</text><text x="493" y="736">1 − Specificity</text><text x="642" y="736">1 − Specificity</text>
<text transform="translate(270,659) rotate(-90)">Sensitivity</text><text transform="translate(423,659) rotate(-90)">Sensitivity</text><text transform="translate(572,659) rotate(-90)">Sensitivity</text>
</g>
<g font-size="5.4" font-weight="bold" fill="#c03038" text-anchor="middle">
<text x="365" y="698">AUC: 0.998</text><text x="365" y="705">95% CI: 0.990−1.000</text>
<text x="518" y="698">AUC: 0.917</text><text x="518" y="705">95% CI: 0.708−1.000</text>
<text x="670" y="698">AUC: 0.970</text><text x="670" y="705">95% CI: 0.900−1.000</text>
</g>

<!-- ===== Panel F ===== -->
<text x="278" y="752" font-size="14" fill="#222">F</text>
<g fill="none" stroke-width="0.6">
<g stroke="#5a6aa8" opacity="0.85">
<path d="M354,825Q335,790 328,753"/><path d="M354,825Q348,790 344,750"/><path d="M354,825Q360,790 362,749"/><path d="M354,825Q372,790 379,752"/><path d="M354,825Q380,792 398,767"/><path d="M354,825Q385,800 408,783"/><path d="M354,825Q390,810 418,802"/><path d="M354,825Q325,790 308,762"/><path d="M354,825Q320,800 298,772"/><path d="M354,825Q315,805 290,785"/><path d="M354,825Q310,815 284,801"/><path d="M354,825Q320,835 288,844"/><path d="M354,825Q320,842 288,854"/><path d="M354,825L417,848"/><path d="M354,825L410,864"/><path d="M354,825L410,881"/>
</g>
<g stroke="#e6d27a" opacity="0.9">
<path d="M350,898Q320,860 288,844"/><path d="M350,898Q320,870 288,854"/><path d="M350,898Q310,900 277,903"/><path d="M350,898Q320,920 286,932"/><path d="M350,898Q325,930 302,952"/><path d="M350,898Q335,935 318,964"/><path d="M350,898Q347,940 345,970"/><path d="M350,898Q380,862 417,848"/><path d="M350,898Q380,870 410,864"/><path d="M350,898Q380,880 410,881"/><path d="M350,898Q380,925 412,929"/><path d="M350,898Q375,930 399,936"/><path d="M350,898Q380,935 412,942"/><path d="M350,898Q375,940 402,947"/><path d="M350,898Q380,945 412,952"/>
</g>
<g stroke="#b04a5a" opacity="0.85">
<path d="M472,910Q450,870 417,848"/><path d="M472,910Q445,880 410,864"/><path d="M472,910Q445,890 410,881"/><path d="M472,910Q450,932 412,929"/><path d="M472,910Q440,938 399,936"/><path d="M472,910Q450,942 412,942"/><path d="M472,910Q440,948 402,947"/><path d="M472,910Q450,952 412,952"/>
</g>
</g>
<ellipse cx="417" cy="866" rx="19" ry="32" transform="rotate(-12 417 866)" fill="#d6d6ee" fill-opacity="0.9" stroke="#6a70a8" stroke-width="0.6" stroke-dasharray="1.5,1.5"/>
<g fill="#a9a9a9" stroke="#9a9a9a" stroke-width="0.4">
<circle cx="328" cy="753" r="6.5"/><circle cx="344" cy="750" r="6.5"/><circle cx="362" cy="749" r="6.5"/><circle cx="379" cy="752" r="6.5"/><circle cx="398" cy="767" r="6.5"/><circle cx="408" cy="783" r="6.5"/><circle cx="418" cy="802" r="6.5"/><circle cx="308" cy="762" r="6.5"/><circle cx="298" cy="772" r="6.5"/><circle cx="290" cy="785" r="6.5"/><circle cx="284" cy="801" r="6.5"/><circle cx="288" cy="844" r="6.5"/><circle cx="288" cy="854" r="6.5"/><circle cx="277" cy="903" r="6.5"/><circle cx="286" cy="932" r="6.5"/><circle cx="302" cy="952" r="6.5"/><circle cx="318" cy="964" r="6.5"/><circle cx="345" cy="970" r="6.5"/><circle cx="412" cy="929" r="6.5"/><circle cx="399" cy="936" r="6.5"/><circle cx="412" cy="942" r="6.5"/><circle cx="402" cy="947" r="6.5"/><circle cx="412" cy="952" r="6.5"/>
</g>
<g fill="#a3a3b8" stroke="#6a6a90" stroke-width="0.5">
<circle cx="417" cy="848" r="6.5"/><circle cx="410" cy="864" r="6.5"/><circle cx="410" cy="881" r="6.5"/>
</g>
<g class="gn">
<text x="328" y="755">NELL1</text><text x="344" y="752">INHBB</text><text x="362" y="751">NRCAM</text><text x="379" y="754">AFF2</text><text x="398" y="769">SERPINA5</text><text x="408" y="785">STC2</text><text x="418" y="804">IL13RA2</text><text x="308" y="764">CDA</text><text x="298" y="774">CA2</text><text x="290" y="787">IGLL5</text><text x="284" y="803">FZD9</text><text x="288" y="846">CIDEC</text><text x="288" y="856">SERPINA1</text><text x="277" y="905">PLIN1</text><text x="286" y="934">CFD</text><text x="302" y="954">GPD1</text><text x="318" y="966">ATP1A2</text><text x="345" y="972">RYR2</text><text x="412" y="931">FGL2</text><text x="399" y="938">FMOD</text><text x="412" y="944">FBLN2</text><text x="402" y="949">CNN1</text><text x="412" y="954">CLIP</text>
</g>
<g font-size="6.4" font-weight="bold" fill="#e8304a" text-anchor="middle">
<text x="419" y="850">CLEC3B</text><text x="411" y="866">PRELP</text><text x="409" y="883">MFAP5</text>
</g>
<circle cx="354" cy="825" r="13.5" fill="#4a66ad"/>
<circle cx="350" cy="898" r="14" fill="#f2c27c"/>
<circle cx="472" cy="910" r="14" fill="#c6505c"/>
<g font-size="8.6" font-weight="bold" fill="#111" text-anchor="middle">
<text x="354" y="828">Lasso+GBM</text><text x="350" y="901">Hubgene</text><text x="472" y="913">MCODE</text>
</g>

<!-- ===== Panel G ===== -->
<text x="502" y="763" font-size="14" fill="#222">G</text>
<rect x="512" y="778" width="182" height="158" fill="none" stroke="#333" stroke-width="0.8"/>
<line x1="523" y1="936" x2="683" y2="778" stroke="#888" stroke-width="0.6"/>
<g fill="none" stroke-width="1.3">
<path d="M529,930V851.2H560.1V826.3H571.9V820.5H614.8V814.7H621.5V808.8H640V789.8H645.9L677,784" stroke="#8b3a3e"/>
<path d="M529,930V911.8H534.9V893.5H540.8V881.8H547.5V875.3H553.7V857H566V832.2H577.8V789.8H603V784H677" stroke="#3f8a8a"/>
<path d="M529,930V875.3H534.9V857H566V838.8H571.9V832.2H584.5V826.3H597.1V808.8H603V802.3H608.9V795.7H634.1V789.8H645.9L677,784" stroke="#2a3442"/>
</g>
<g stroke="#333" stroke-width="0.5">
<path d="M529,936v2M558.6,936v2M588.2,936v2M617.8,936v2M647.4,936v2M677,936v2M512,930h-2M512,900.8h-2M512,871.6h-2M512,842.4h-2M512,813.2h-2M512,784h-2"/>
</g>
<g class="tk" text-anchor="middle">
<text x="529" y="948">0.0</text><text x="558.6" y="948">0.2</text><text x="588.2" y="948">0.4</text><text x="617.8" y="948">0.6</text><text x="647.4" y="948">0.8</text><text x="677" y="948">1.0</text>
<text transform="translate(507,930) rotate(-90)">0.0</text><text transform="translate(507,900.8) rotate(-90)">0.2</text><text transform="translate(507,871.6) rotate(-90)">0.4</text><text transform="translate(507,842.4) rotate(-90)">0.6</text><text transform="translate(507,813.2) rotate(-90)">0.8</text><text transform="translate(507,784) rotate(-90)">1.0</text>
</g>
<text x="607" y="959" font-size="9.5" fill="#333" text-anchor="middle">1 − Specificity</text>
<text transform="translate(492,850) rotate(-90)" font-size="9" fill="#333" text-anchor="middle">Sensitivity</text>
<g stroke-width="1.5">
<line x1="592" y1="899" x2="607" y2="899" stroke="#8b3a3e"/><line x1="592" y1="912" x2="607" y2="912" stroke="#3f8a8a"/><line x1="592" y1="925" x2="607" y2="925" stroke="#2a3442"/>
</g>
<g font-size="7.9" fill="#333">
<text x="613" y="902">CLEC3B, AUC=0.776</text><text x="613" y="915">PRELP, AUC=0.802</text><text x="613" y="928">MFAP5, AUC=0.770</text>
</g>
</svg>
</body></html>
